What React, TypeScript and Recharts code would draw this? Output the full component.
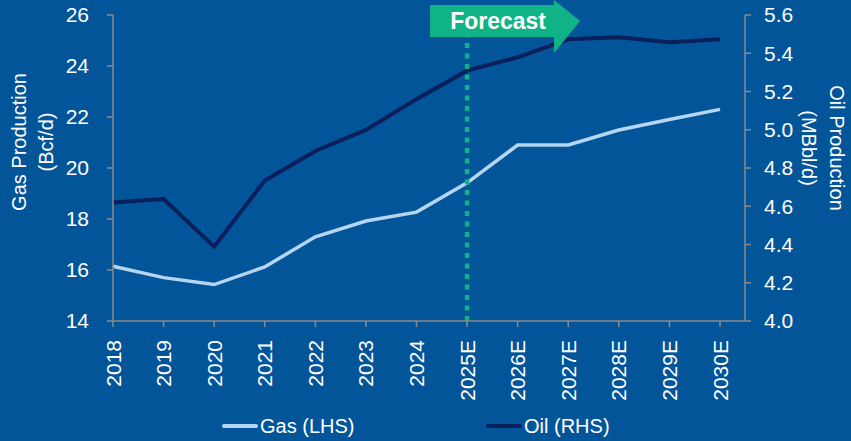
import { LineChart, Line, XAxis, YAxis, ReferenceLine, Legend } from 'recharts';

const years = ['2018', '2019', '2020', '2021', '2022', '2023', '2024', '2025E', '2026E', '2027E', '2028E', '2029E', '2030E'];
const gas = [16.15, 15.7, 15.43, 16.12, 17.3, 17.92, 18.27, 19.42, 20.9, 20.9, 21.49, 21.9, 22.3];
const oil = [4.62, 4.638, 4.389, 4.734, 4.889, 4.999, 5.16, 5.309, 5.379, 5.473, 5.483, 5.457, 5.473];
const gasTicks = [14, 16, 18, 20, 22, 24, 26];
const oilTicks = [4.0, 4.2, 4.4, 4.6, 4.8, 5.0, 5.2, 5.4, 5.6];

const data = years.map((year, i) => ({ year, gas: gas[i], oil: oil[i] }));

const BG = '#03559a';
const GAS = '#b5d6f2';
const OIL = '#0a1f5c';
const GREEN = '#10b386';
const AXIS = '#8a8a8a';
const FONT = '"Liberation Sans", Arial, sans-serif';

const YearTick = ({ x, y, payload }: any) => (
  <text
    x={x}
    y={y + 11}
    transform={`rotate(-90, ${x}, ${y + 11})`}
    textAnchor="end"
    dy="0.36em"
    fill="#fff"
    fontSize={21}
    fontFamily={FONT}
  >
    {payload.value}
  </text>
);

const ForecastArrow = ({ viewBox }: any) => {
  const x = viewBox.x;
  const y = viewBox.y;
  const pts = [
    [x - 37, y - 10],
    [x + 87, y - 10],
    [x + 87, y - 15],
    [x + 113, y + 6],
    [x + 87, y + 38],
    [x + 87, y + 22],
    [x - 37, y + 22],
  ]
    .map((p) => p.join(','))
    .join(' ');
  return (
    <g>
      <polygon points={pts} fill={GREEN} />
      <text x={x + 31} y={y + 6} dy="0.36em" textAnchor="middle" fill="#fff" fontSize={23} fontWeight="bold" fontFamily={FONT}>
        Forecast
      </text>
    </g>
  );
};

const LegendContent = () => (
  <div style={{ position: 'relative', width: 851, height: 30, fontFamily: FONT, fontSize: 20, color: '#fff' }}>
    <div style={{ position: 'absolute', left: 222, top: 13, width: 36, height: 4, background: GAS, borderRadius: 2 }} />
    <div style={{ position: 'absolute', left: 260, top: 3, lineHeight: '24px' }}>Gas (LHS)</div>
    <div style={{ position: 'absolute', left: 486, top: 13, width: 36, height: 4, background: OIL, borderRadius: 2 }} />
    <div style={{ position: 'absolute', left: 524, top: 3, lineHeight: '24px' }}>Oil (RHS)</div>
  </div>
);

export default function App() {
  return (
    <div style={{ position: 'absolute', left: 0, top: 0, width: 851, height: 441, background: BG }}>
      <LineChart width={851} height={441} data={data} margin={{ top: 15, right: 0, left: 0, bottom: 0 }}>
        <XAxis
          dataKey="year"
          padding={{ left: 0, right: 25 }}
          stroke={AXIS}
          strokeWidth={1.5}
          tickSize={6}
          tick={<YearTick />}
          interval={0}
          height={90}
        />
        <YAxis
          yAxisId="gas"
          domain={[14, 26]}
          ticks={gasTicks}
          width={113}
          stroke={AXIS}
          strokeWidth={1.5}
          tickSize={6}
          tickMargin={18}
          tick={{ fill: '#fff', fontSize: 21, fontFamily: FONT }}
          label={{
            content: () => (
              <text transform="translate(0,142) rotate(-90)" textAnchor="middle" fill="#fff" fontSize={20} fontFamily={FONT}>
                <tspan x={0} y={26}>Gas Production</tspan>
                <tspan x={0} y={53}>(Bcf/d)</tspan>
              </text>
            ),
          }}
        />
        <YAxis
          yAxisId="oil"
          orientation="right"
          domain={[4, 5.6]}
          ticks={oilTicks}
          width={106}
          stroke={AXIS}
          strokeWidth={1.5}
          tickSize={6}
          tickMargin={13}
          tickFormatter={(v: number) => v.toFixed(1)}
          tick={{ fill: '#fff', fontSize: 21, fontFamily: FONT }}
          label={{
            content: () => (
              <text transform="translate(851,148) rotate(90)" textAnchor="middle" fill="#fff" fontSize={20} fontFamily={FONT}>
                <tspan x={0} y={21}>Oil Production</tspan>
                <tspan x={0} y={49}>(MBbl/d)</tspan>
              </text>
            ),
          }}
        />
        <Line yAxisId="oil" dataKey="oil" stroke={OIL} strokeWidth={4} dot={false} isAnimationActive={false} />
        <Line yAxisId="gas" dataKey="gas" stroke={GAS} strokeWidth={3.5} dot={false} isAnimationActive={false} />
        <ReferenceLine
          yAxisId="gas"
          x="2025E"
          stroke={GREEN}
          strokeWidth={4.5}
          strokeDasharray="5 5.5"
          label={<ForecastArrow />}
        />
        <Legend verticalAlign="bottom" content={<LegendContent />} wrapperStyle={{ left: 0, width: 851 }} />
      </LineChart>
    </div>
  );
}
